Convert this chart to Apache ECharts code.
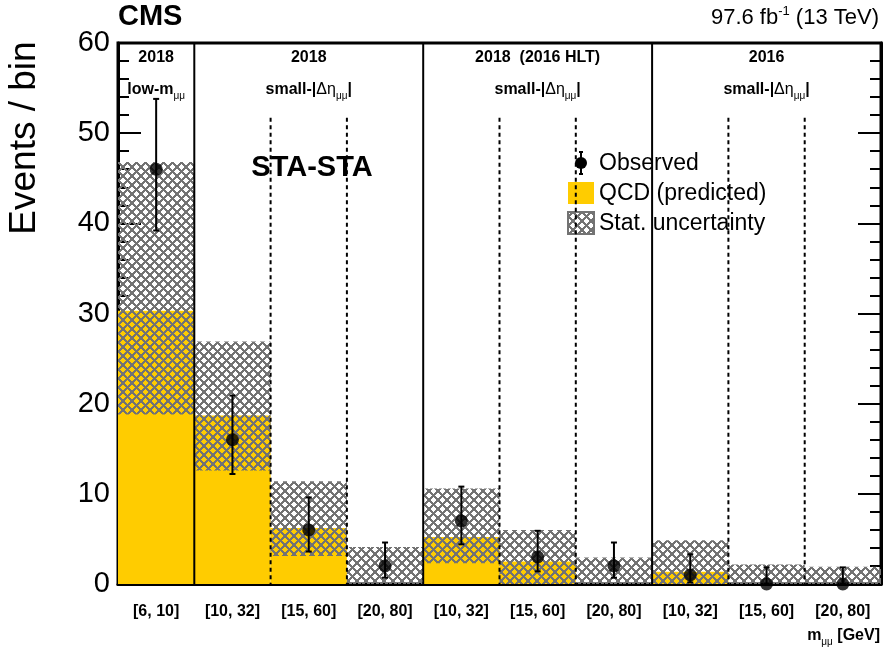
<!DOCTYPE html>
<html>
<head>
<meta charset="utf-8">
<script src="https://cdn.jsdelivr.net/npm/echarts@6/dist/echarts.min.js"></script>
<style>
  html, body { margin: 0; padding: 0; background: #fff; }
  #chart { width: 883px; height: 655px; }
</style>
</head>
<body>
<div id="chart"></div>
<script>
// bins: 1 low-mass bin, then 3 small-|deta| bins for each of three datasets
const categories = ['[6, 10]', '[10, 32]', '[15, 60]', '[20, 80]', '[10, 32]', '[15, 60]', '[20, 80]', '[10, 32]', '[15, 60]', '[20, 80]'];
const qcd = [30.3, 18.7, 6.2, 0, 5.2, 2.5, 0, 1.35, 0, 0];
const bandLo = [18.8, 12.6, 3.1, 0, 2.3, 0, 0, 0, 0, 0];
const bandHi = [46.8, 26.9, 11.4, 4.1, 10.6, 6.0, 2.95, 4.85, 2.15, 1.9];
const observed = [46, 16, 6, 2, 7, 3, 2, 1, 0, 0];
const obsLo = [39.2, 12.2, 3.6, 0.7, 4.4, 1.4, 0.7, 0.17, 0, 0];
const obsHi = [53.8, 20.9, 9.6, 4.6, 10.8, 5.9, 4.6, 3.3, 1.84, 1.84];
const solidEdges = [1, 4, 7];
const dashedEdges = [2, 3, 5, 6, 8, 9];

const FONT = '"Liberation Sans", Arial, sans-serif';
const YELLOW = '#ffcc00';
const HATCH_GREY = '#737373';

// cross-hatch pattern for the stat. uncertainty band (pixel-drawn, no antialiasing)
function makeHatch() {
  const p = 9;
  const c = document.createElement('canvas');
  c.width = p; c.height = p;
  const ctx = c.getContext('2d');
  ctx.fillStyle = HATCH_GREY;
  for (let x = 0; x < p; x++) {
    for (let y = 0; y < p; y++) {
      const a = ((x - y) % p + p) % p;
      const b = (x + y) % p;
      if (a < 3 || b < 3) ctx.fillRect(x, y, 1, 1);
    }
  }
  return c;
}
const hatch = { image: makeHatch(), repeat: 'repeat' };

const chart = echarts.init(document.getElementById('chart'));

const gridL = 118, gridR = 2, gridT = 43, gridB = 71;
const plotW = 883 - gridL - gridR;
const binW = plotW / categories.length;
const cx = (a, b) => gridL + (a + b) / 2 * binW;

const sub = { fontSize: 10, fontWeight: 'normal', lineHeight: 10, verticalAlign: 'bottom', fontFamily: FONT };
const head = { fontSize: 16, fontWeight: 'bold', lineHeight: 22, verticalAlign: 'middle', fontFamily: FONT };
const headNorm = { fontSize: 16, fontWeight: 'normal', lineHeight: 22, verticalAlign: 'middle', fontFamily: FONT };

function headerText(x, year, lowMass) {
  const line2 = lowMass
    ? '{b|low-m}{s|μμ}'
    : '{b|small-|}{n|Δη}{s|μμ}{b||}';
  return [
    { type: 'text', x: x, y: 58, style: { text: year, font: 'bold 16px ' + FONT, align: 'center', verticalAlign: 'middle', fill: '#000' } },
    { type: 'text', x: x, y: 90, style: { text: line2, rich: { b: head, n: headNorm, s: sub }, align: 'center', verticalAlign: 'middle' } }
  ];
}

const option = {
  animation: false,
  grid: { left: gridL, right: gridR, top: gridT, bottom: gridB, show: true, borderColor: '#000', borderWidth: 3 },
  xAxis: {
    type: 'category',
    data: categories,
    boundaryGap: true,
    axisLine: { lineStyle: { color: '#000', width: 3 } },
    axisTick: { show: false },
    axisLabel: { color: '#000', fontSize: 16, fontWeight: 'bold', fontFamily: FONT, margin: 20, interval: 0 },
    splitLine: { show: false }
  },
  yAxis: [
    {
      type: 'value', min: 0, max: 60, interval: 10,
      axisLine: { show: true, lineStyle: { color: '#000', width: 3 } },
      axisTick: { show: true, inside: true, length: 23, lineStyle: { color: '#000', width: 2 } },
      minorTick: { show: true, splitNumber: 5, length: 11, lineStyle: { color: '#000', width: 2 } },
      axisLabel: { color: '#000', fontSize: 29, fontFamily: FONT, margin: 8 },
      splitLine: { show: false }
    },
    {
      type: 'value', min: 0, max: 60, interval: 10, position: 'right',
      axisLine: { show: true, lineStyle: { color: '#000', width: 3 } },
      axisTick: { show: true, inside: true, length: 23, lineStyle: { color: '#000', width: 2 } },
      minorTick: { show: true, splitNumber: 5, length: 11, lineStyle: { color: '#000', width: 2 } },
      axisLabel: { show: false },
      splitLine: { show: false }
    }
  ],
  series: [
    {
      name: 'QCD (predicted)',
      type: 'bar',
      data: qcd,
      barWidth: '100%',
      itemStyle: { color: YELLOW },
      z: 1
    },
    {
      name: 'Stat. uncertainty',
      type: 'custom',
      data: bandHi.map((h, i) => [i, bandLo[i], h]),
      renderItem: (params, api) => {
        const i = api.value(0);
        const lo = api.coord([i, api.value(1)]);
        const hi = api.coord([i, api.value(2)]);
        const w = api.size([1, 0])[0];
        return { type: 'rect', shape: { x: lo[0] - w / 2, y: hi[1], width: w, height: lo[1] - hi[1] }, style: { fill: hatch } };
      },
      z: 2
    },
    {
      name: 'separators',
      type: 'custom',
      data: solidEdges.map(e => [e, 60, 0]).concat(dashedEdges.map(e => [e, 51.7, 1])),
      renderItem: (params, api) => {
        const e = api.value(0);
        const w = api.size([1, 0])[0];
        const top = api.coord([e, api.value(1)]);
        const bot = api.coord([e, 0]);
        const x = top[0] - w / 2;
        return {
          type: 'line',
          shape: { x1: x, y1: top[1], x2: x, y2: bot[1] },
          style: { stroke: '#000', lineWidth: 2, lineDash: api.value(2) ? [4, 3.5] : null }
        };
      },
      z: 3
    },
    {
      name: 'errors',
      type: 'custom',
      data: observed.map((v, i) => [i, obsLo[i], obsHi[i]]),
      renderItem: (params, api) => {
        const i = api.value(0);
        const lo = api.coord([i, api.value(1)]);
        const hi = api.coord([i, api.value(2)]);
        const c = 3;
        return {
          type: 'group',
          children: [
            { type: 'line', shape: { x1: lo[0], y1: lo[1], x2: hi[0], y2: hi[1] }, style: { stroke: '#000', lineWidth: 2 } },
            { type: 'line', shape: { x1: hi[0] - c, y1: hi[1], x2: hi[0] + c, y2: hi[1] }, style: { stroke: '#000', lineWidth: 2 } },
            { type: 'line', shape: { x1: lo[0] - c, y1: lo[1], x2: lo[0] + c, y2: lo[1] }, style: { stroke: '#000', lineWidth: 2 } }
          ]
        };
      },
      clip: false,
      z: 4
    },
    {
      name: 'Observed',
      type: 'scatter',
      data: observed.map((v, i) => [i, v]),
      symbol: 'circle',
      symbolSize: 13,
      itemStyle: { color: '#000' },
      clip: false,
      z: 5
    }
  ],
  graphic: [
    { type: 'text', x: 118, y: 17, style: { text: 'CMS', font: 'bold 29px ' + FONT, align: 'left', verticalAlign: 'middle', fill: '#000' } },
    {
      type: 'text', x: 879, y: 18,
      style: {
        text: '{n|97.6 fb}{u|-1}{n| (13 TeV)}',
        align: 'right', verticalAlign: 'middle',
        rich: {
          n: { fontSize: 22, fontFamily: FONT, lineHeight: 26, verticalAlign: 'middle', fill: '#000' },
          u: { fontSize: 13, fontFamily: FONT, lineHeight: 26, verticalAlign: 'top', fill: '#000' }
        }
      }
    },
    {
      type: 'text', x: 25, y: 138, rotation: Math.PI / 2,
      style: { text: 'Events / bin', font: '37px ' + FONT, align: 'center', verticalAlign: 'middle', fill: '#000' }
    },
    {
      type: 'text', x: 880, y: 636,
      style: {
        text: '{b|m}{s|μμ}{b| [GeV]}',
        align: 'right', verticalAlign: 'middle',
        rich: { b: head, s: sub }
      }
    },
    { type: 'text', x: 312, y: 168, style: { text: 'STA-STA', font: 'bold 29px ' + FONT, align: 'center', verticalAlign: 'middle', fill: '#000' } },
    ...headerText(cx(0, 1), '2018', true),
    ...headerText(cx(1, 4), '2018', false),
    ...headerText(cx(4, 7), '2018  (2016 HLT)', false),
    ...headerText(cx(7, 10), '2016', false),
    // legend
    { type: 'line', shape: { x1: 581, y1: 152, x2: 581, y2: 174 }, style: { stroke: '#000', lineWidth: 2 } },
    { type: 'line', shape: { x1: 579, y1: 152, x2: 583, y2: 152 }, style: { stroke: '#000', lineWidth: 2 } },
    { type: 'line', shape: { x1: 579, y1: 174, x2: 583, y2: 174 }, style: { stroke: '#000', lineWidth: 2 } },
    { type: 'circle', shape: { cx: 581, cy: 163, r: 6 }, style: { fill: '#000' } },
    { type: 'rect', shape: { x: 568, y: 182, width: 26, height: 22 }, style: { fill: YELLOW } },
    { type: 'rect', shape: { x: 568, y: 212, width: 26, height: 22 }, style: { fill: hatch, stroke: HATCH_GREY, lineWidth: 2 } },
    { type: 'text', x: 599, y: 164, style: { text: 'Observed', font: '23px ' + FONT, align: 'left', verticalAlign: 'middle', fill: '#000' } },
    { type: 'text', x: 599, y: 194, style: { text: 'QCD (predicted)', font: '23px ' + FONT, align: 'left', verticalAlign: 'middle', fill: '#000' } },
    { type: 'text', x: 599, y: 224, style: { text: 'Stat. uncertainty', font: '23px ' + FONT, align: 'left', verticalAlign: 'middle', fill: '#000' } }
  ]
};

chart.setOption(option);
window.addEventListener('resize', () => chart.resize());
</script>
</body>
</html>
